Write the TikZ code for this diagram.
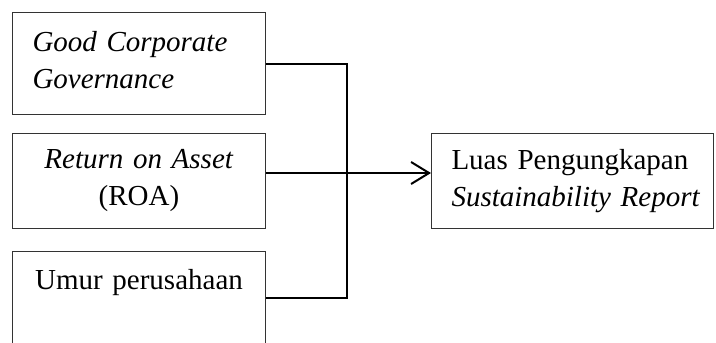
\documentclass[tikz,border=0pt]{standalone}
\usepackage{fontspec}
\setmainfont{Liberation Serif}[ItalicFont={Liberation Serif Italic}]
\usepackage{tikz}
\usetikzlibrary{arrows.meta, positioning}

\begin{document}
\begin{tikzpicture}[
    x=1pt, y=-1pt,
    every node/.style={font=\fontsize{29}{37}\selectfont},
    varbox/.style={rectangle, draw=black!80, line width=1pt,
                   inner xsep=20pt, inner ysep=0pt, text width=213pt},
    depbox/.style={varbox, text width=242pt, minimum height=95pt, align=left},
    link/.style={line width=2pt, black}
]
    \useasboundingbox (0,0) rectangle (716,343);

    % Independent variables
    \node[varbox, align=left, minimum height=102pt, anchor=north west] (gcg) at (12,12)
        {\textit{Good Corporate}\\\textit{Governance}\\[-30pt]\mbox{}};
    \node[varbox, align=center, minimum height=95pt, below=18pt of gcg] (roa)
        {\textit{Return on Asset}\\(ROA)};
    \node[varbox, align=center, minimum height=92pt, below=22pt of roa] (umur)
        {Umur perusahaan\\\mbox{}};

    % Dependent variable
    \node[depbox, right=165pt of roa] (sr)
        {Luas Pengungkapan\\\mbox{\textit{Sustainability Report}}};

    % Connecting lines
    \coordinate (jn) at (347,173);
    \draw[link] (gcg.east) -| (jn) |- (umur.east);
    \draw[link] (roa.east |- jn) -- (jn);
    \draw[link, -{Straight Barb[length=18pt, width=22pt, line width=2pt]}] (jn) -- (sr.west |- jn);
\end{tikzpicture}
\end{document}
